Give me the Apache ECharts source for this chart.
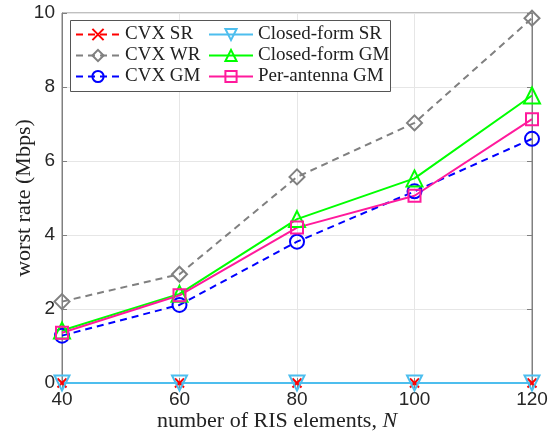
<!DOCTYPE html>
<html>
<head>
<meta charset="utf-8">
<script src="https://cdn.jsdelivr.net/npm/echarts@6/dist/echarts.min.js"></script>
<style>
  html, body { margin: 0; padding: 0; background: #fff; }
  #chart { width: 553px; height: 432px; }
</style>
</head>
<body>
<div id="chart"></div>
<script>
// x: number of RIS elements
const elements = [40, 60, 80, 100, 120]

// worst rate (Mbps) per scheme
const cvxSR = [0, 0, 0, 0, 0]
const cvxWR = [2.2, 2.94, 5.57, 7.03, 9.86]
const cvxGM = [1.28, 2.11, 3.82, 5.18, 6.6]
const closedSR = [0, 0, 0, 0, 0]
const closedGM = [1.42, 2.41, 4.43, 5.53, 7.77]
const perAntennaGM = [1.36, 2.37, 4.2, 5.06, 7.13]

const serif = 'Liberation Serif'
const sans = 'Liberation Sans'

const crossPath = 'path://M0,0L10,10M10,0L0,10'
const diamondPath = 'path://M5,0L10,5L5,10L0,5Z'
const downTriPath = 'path://M0,0L10,0L5,9Z'
const upTriPath = 'path://M5,0L10,9L0,9Z'

function pairs(ys) {
  return elements.map((x, i) => [x, ys[i]])
}

function makeSeries(name, ys, color, dashed, symbol, size) {
  return {
    name,
    type: 'line',
    data: pairs(ys),
    clip: false,
    symbol,
    symbolSize: size,
    showAllSymbol: true,
    lineStyle: { color, width: 2, type: dashed ? [7, 5] : 'solid' },
    itemStyle: { color: 'rgba(0,0,0,0)', borderColor: color, borderWidth: 2 },
    emphasis: { disabled: true },
    animation: false,
  }
}

const chart = echarts.init(document.getElementById('chart'))

const legendText = { fontFamily: serif, fontSize: 19, color: '#222' }

chart.setOption({
  backgroundColor: '#fff',
  animation: false,
  grid: {
    left: 62, right: 21, top: 13, bottom: 49,
    outerBoundsMode: 'none',
    show: true, borderColor: '#808080', borderWidth: 1,
  },
  legend: [
    {
      data: ['CVX SR', 'CVX WR', 'CVX GM'],
      orient: 'vertical',
      left: 70,
      top: 20,
      itemGap: 2,
      itemWidth: 44,
      itemHeight: 14,
      textStyle: legendText,
      selectedMode: false,
    },
    {
      data: ['Closed-form SR', 'Closed-form GM', 'Per-antenna GM'],
      orient: 'vertical',
      left: 203,
      top: 20,
      itemGap: 2,
      itemWidth: 44,
      itemHeight: 14,
      textStyle: legendText,
      selectedMode: false,
    },
  ],
  graphic: [
    {
      type: 'rect',
      shape: { x: 70.5, y: 20.5, width: 320, height: 71 },
      style: { fill: '#fff', stroke: '#555', lineWidth: 1 },
      z: 3,
    },
  ],
  xAxis: [
    {
      type: 'value',
      min: 40,
      max: 120,
      interval: 20,
      name: 'number of RIS elements, {i|N}',
      nameLocation: 'middle',
      nameGap: 27,
      nameMoveOverlap: false,
      nameTextStyle: {
        fontFamily: serif,
        fontSize: 22,
        color: '#222',
        padding: [0, 40, 0, 0],
        rich: { i: { fontFamily: serif, fontStyle: 'italic', fontSize: 22, color: '#222' } },
      },
      axisLine: { show: true, lineStyle: { color: '#808080' } },
      axisTick: { inside: true, length: 5, lineStyle: { color: '#808080' } },
      axisLabel: { fontFamily: sans, fontSize: 19, color: '#262626', margin: 7 },
      splitLine: { show: true, lineStyle: { color: '#e6e6e6' } },
    },
    {
      type: 'value',
      position: 'top',
      min: 40,
      max: 120,
      interval: 20,
      axisLine: { show: true, lineStyle: { color: '#808080' } },
      axisTick: { inside: true, length: 5, lineStyle: { color: '#808080' } },
      axisLabel: { show: false },
      splitLine: { show: false },
    },
  ],
  yAxis: [
    {
      type: 'value',
      min: 0,
      max: 10,
      interval: 2,
      name: 'worst rate (Mbps)',
      nameLocation: 'middle',
      nameGap: 27,
      nameMoveOverlap: false,
      nameTextStyle: { fontFamily: serif, fontSize: 22, color: '#222' },
      axisLine: { show: true, lineStyle: { color: '#808080' } },
      axisTick: { inside: true, length: 5, lineStyle: { color: '#808080' } },
      axisLabel: { fontFamily: sans, fontSize: 19, color: '#262626', margin: 7 },
      splitLine: { show: true, lineStyle: { color: '#e6e6e6' } },
    },
    {
      type: 'value',
      position: 'right',
      min: 0,
      max: 10,
      interval: 2,
      axisLine: { show: true, lineStyle: { color: '#808080' } },
      axisTick: { inside: true, length: 5, lineStyle: { color: '#808080' } },
      axisLabel: { show: false },
      splitLine: { show: false },
    },
  ],
  series: [
    makeSeries('CVX SR', cvxSR, '#ff0000', true, crossPath, 9),
    makeSeries('CVX WR', cvxWR, '#808080', true, diamondPath, 15),
    makeSeries('CVX GM', cvxGM, '#0000ff', true, 'circle', 14),
    makeSeries('Closed-form SR', closedSR, '#4dbeee', false, downTriPath, 15),
    makeSeries('Closed-form GM', closedGM, '#00ff00', false, upTriPath, 16),
    makeSeries('Per-antenna GM', perAntennaGM, '#ff1a9c', false, 'rect', 12),
  ],
})
</script>
</body>
</html>
